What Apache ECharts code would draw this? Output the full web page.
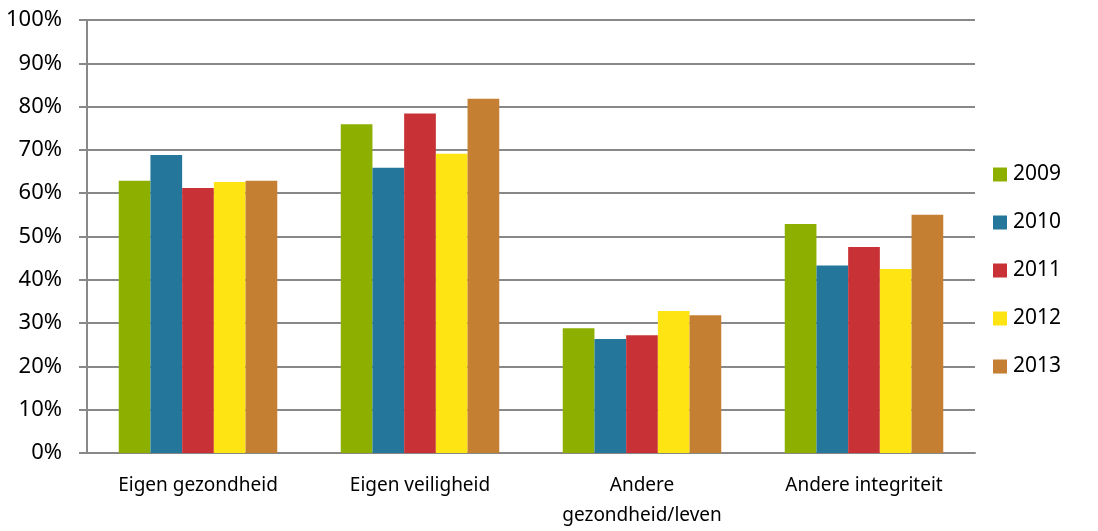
<!DOCTYPE html>
<html><head><meta charset="utf-8">
<script src="https://cdn.jsdelivr.net/npm/echarts@6/dist/echarts.min.js"></script>
<style>html,body{margin:0;padding:0;background:#fff}#c{width:1098px;height:531px}</style>
</head><body><div id="c"></div>
<script>
const categories = ['Eigen gezondheid', 'Eigen veiligheid', 'Andere\ngezondheid/leven', 'Andere integriteit'];
const years = ['2009', '2010', '2011', '2012', '2013'];
const v2009 = [62.9, 75.9, 28.8, 52.9];
const v2010 = [68.8, 65.9, 26.3, 43.3];
const v2011 = [61.2, 78.4, 27.2, 47.6];
const v2012 = [62.6, 69.1, 32.8, 42.5];
const v2013 = [62.9, 81.8, 31.8, 55.0];
const seriesValues = [v2009, v2010, v2011, v2012, v2013];
const colors = ['#8DB000', '#24779B', '#C83236', '#FFE413', '#C47F32'];
const yTicks = [0, 10, 20, 30, 40, 50, 60, 70, 80, 90, 100];

const font = '"Noto Sans", sans-serif';
const chart = echarts.init(document.getElementById('c'), null, {renderer: 'canvas'});
chart.setOption({
  animation: false,
  grid: {left: 87, right: 123, top: 20, bottom: 77, containLabel: false},
  legend: {
    orient: 'vertical', left: 988, top: 159,
    itemWidth: 14, itemHeight: 14, itemGap: 27,
    icon: 'rect',
    textStyle: {fontFamily: font, fontSize: 21, color: '#000', padding: [0, 0, 0, 1]},
    data: years
  },
  xAxis: {
    type: 'category', data: categories,
    axisLine: {show: true, lineStyle: {color: '#888', width: 2}},
    axisTick: {show: false},
    axisLabel: {fontFamily: font, fontSize: 19, color: '#000', margin: 18, lineHeight: 30, interval: 0}
  },
  yAxis: {
    type: 'value', min: yTicks[0], max: yTicks[yTicks.length - 1], interval: 10,
    axisLine: {show: true, lineStyle: {color: '#888', width: 2}},
    axisTick: {show: true, length: 8, lineStyle: {color: '#888', width: 2}},
    splitLine: {show: true, lineStyle: {color: '#888', width: 2}},
    axisLabel: {fontFamily: font, fontSize: 22, color: '#000', margin: 25, formatter: v => v + '%'}
  },
  series: seriesValues.map((vals, i) => ({
    name: years[i], type: 'bar', data: vals,
    barGap: '0%', barCategoryGap: '28.6%',
    itemStyle: {color: colors[i]}
  }))
});
</script></body></html>
